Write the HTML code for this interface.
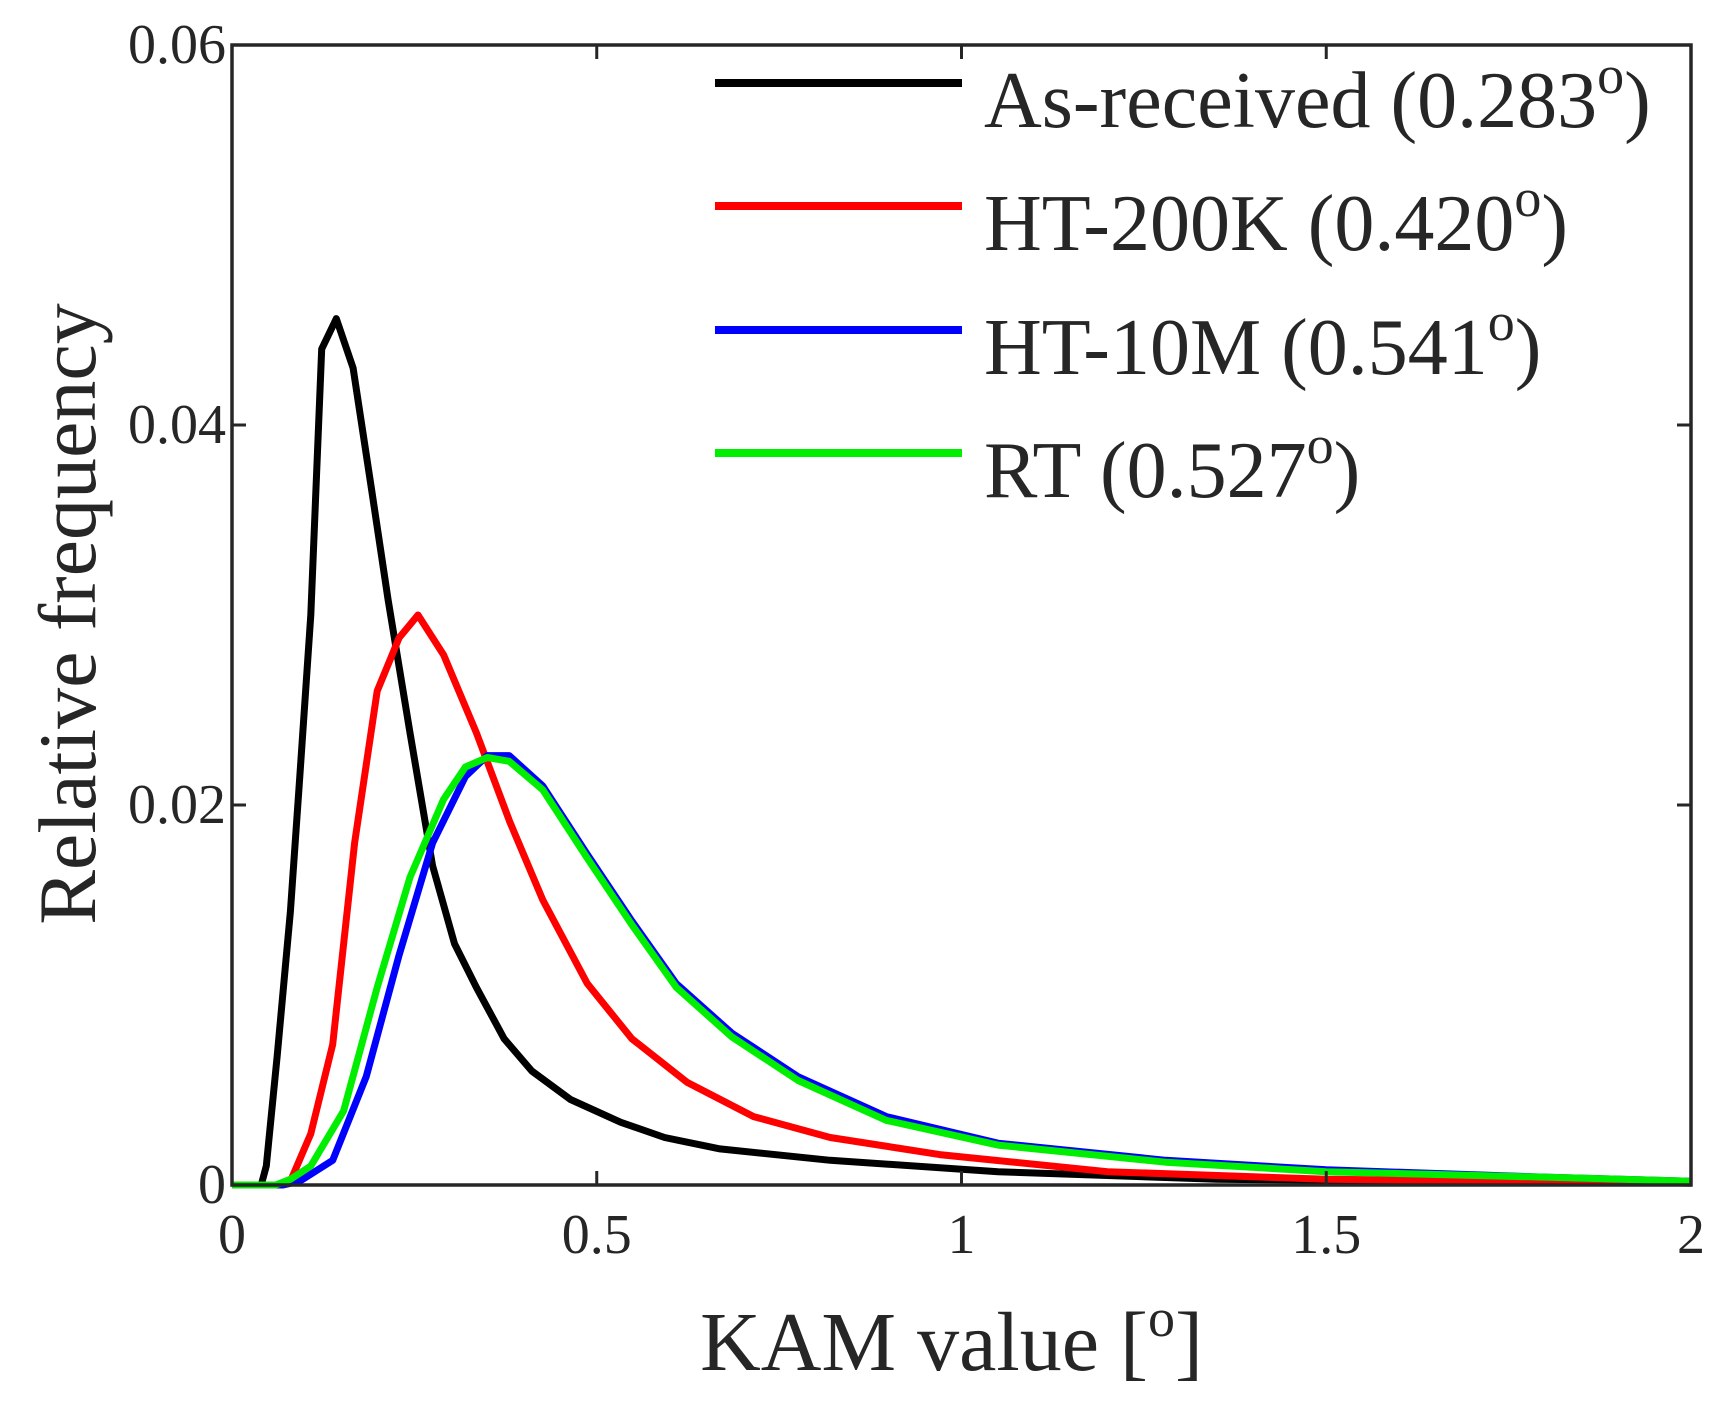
<!DOCTYPE html>
<html><head><meta charset="utf-8"><style>
html,body{margin:0;padding:0;background:#fff;}
svg{display:block;font-family:"Liberation Serif",serif;}
</style></head><body>
<svg id="chart" width="1735" height="1411" viewBox="0 0 1735 1411" xmlns="http://www.w3.org/2000/svg">
<g id="plot"></g>
</svg>
<script>
const xTicks=[0,0.5,1,1.5,2];
const xTickLabels=["0","0.5","1","1.5","2"];
const yTicks=[0,0.02,0.04,0.06];
const yTickLabels=["0","0.02","0.04","0.06"];
const seriesNames=["As-received (0.283","HT-200K (0.420","HT-10M (0.541","RT (0.527"];
const seriesColors=["#000000","#ff0000","#0000ff","#00ee00"];
const blackX=[0,0.04,0.047,0.062,0.08,0.093,0.108,0.123,0.143,0.166,0.191,0.214,0.244,0.275,0.305,0.335,0.373,0.411,0.464,0.533,0.593,0.669,0.82,1.05,1.35,2];
const blackY=[0,0,0.001,0.0068,0.0144,0.0215,0.030,0.044,0.0456,0.043,0.0367,0.0308,0.0238,0.0168,0.0127,0.0104,0.0077,0.006,0.0045,0.0033,0.0025,0.0019,0.0013,0.0007,0.0003,0.0001];
const redX=[0,0.06,0.08,0.108,0.138,0.168,0.199,0.229,0.255,0.29,0.335,0.381,0.426,0.487,0.548,0.624,0.715,0.82,0.97,1.2,1.5,2];
const redY=[0,0,0.0002,0.0027,0.0074,0.018,0.026,0.0288,0.030,0.0279,0.0238,0.0191,0.015,0.0106,0.0077,0.0054,0.0036,0.0025,0.0016,0.0007,0.0003,0.0001];
const blueX=[0,0.07,0.093,0.138,0.184,0.229,0.275,0.32,0.35,0.38,0.426,0.487,0.548,0.609,0.685,0.776,0.897,1.05,1.28,1.5,1.81,2];
const blueY=[0,0,0.0002,0.0013,0.0057,0.0121,0.018,0.0215,0.0226,0.0226,0.021,0.0174,0.0139,0.0106,0.008,0.0057,0.0036,0.0022,0.0013,0.0008,0.0004,0.0002];
const greenX=[0,0.06,0.08,0.108,0.153,0.199,0.244,0.29,0.32,0.35,0.38,0.426,0.487,0.548,0.609,0.685,0.776,0.897,1.05,1.28,1.5,1.81,2];
const greenY=[0,0,0.0003,0.001,0.0039,0.0104,0.0162,0.0203,0.022,0.0225,0.0223,0.0208,0.0172,0.0137,0.0104,0.0078,0.0055,0.0034,0.0021,0.0012,0.0007,0.0004,0.0002];

const L=232,R=1691,T=45,B=1185;
const sx=v=>L+(v-0)/(2-0)*(R-L);
const sy=v=>B-(v-0)/(0.06-0)*(B-T);
const NS="http://www.w3.org/2000/svg";
const g=document.getElementById('plot');
function mk(tag,attrs,parent){const e=document.createElementNS(NS,tag);for(const k in attrs)e.setAttribute(k,attrs[k]);(parent||g).appendChild(e);return e;}

const data=[[blackX,blackY],[redX,redY],[blueX,blueY],[greenX,greenY]];
const lineNames=['series-as-received','series-ht-200k','series-ht-10m','series-rt'];
data.forEach((d,i)=>{
  const pts=d[0].map((x,j)=>sx(x).toFixed(1)+','+sy(d[1][j]).toFixed(1)).join(' ');
  const p=mk('polyline',{points:pts,fill:'none',stroke:seriesColors[i],'stroke-width':7,'stroke-linejoin':'round'});
  
  
});

const frame=mk('rect',{x:L,y:T,width:R-L,height:B-T,fill:'none',stroke:'#262626','stroke-width':3.5});



xTicks.forEach((v,i)=>{
  const x=sx(v);
  mk('line',{x1:x,y1:B,x2:x,y2:B-14,stroke:'#262626','stroke-width':3});
  mk('line',{x1:x,y1:T,x2:x,y2:T+14,stroke:'#262626','stroke-width':3});
  const t=mk('text',{x:x,y:B+68,'text-anchor':'middle','font-size':56,fill:'#262626'});
  t.textContent=xTickLabels[i];
  
  
});
yTicks.forEach((v,i)=>{
  const y=sy(v);
  mk('line',{x1:L,y1:y,x2:L+14,y2:y,stroke:'#262626','stroke-width':3});
  mk('line',{x1:R,y1:y,x2:R-14,y2:y,stroke:'#262626','stroke-width':3});
  const t=mk('text',{x:L-6,y:y+18,'text-anchor':'end','font-size':56,fill:'#262626'});
  t.textContent=yTickLabels[i];
  
  
});

const xt=mk('text',{x:(L+R)/2-10,y:1370,'text-anchor':'middle','font-size':84,fill:'#262626'});
xt.innerHTML='KAM value [<tspan dy="-34" font-size="54">o</tspan><tspan dy="34">]</tspan>';


const yt=mk('text',{x:0,y:0,'text-anchor':'middle','font-size':82,fill:'#262626',transform:'translate(95,614) rotate(-90)'});
yt.textContent='Relative frequency';



const legY=[83,206,330,453];
seriesNames.forEach((n,i)=>{
  const l=mk('line',{x1:715,y1:legY[i],x2:962,y2:legY[i],stroke:seriesColors[i],'stroke-width':8});
  
  
  const t=mk('text',{x:984,y:legY[i]+44,'font-size':80,fill:'#262626'});
  t.innerHTML=n+'<tspan dy="-34" font-size="54">o</tspan><tspan dy="34">)</tspan>';
  
  
});
</script>
</body></html>
